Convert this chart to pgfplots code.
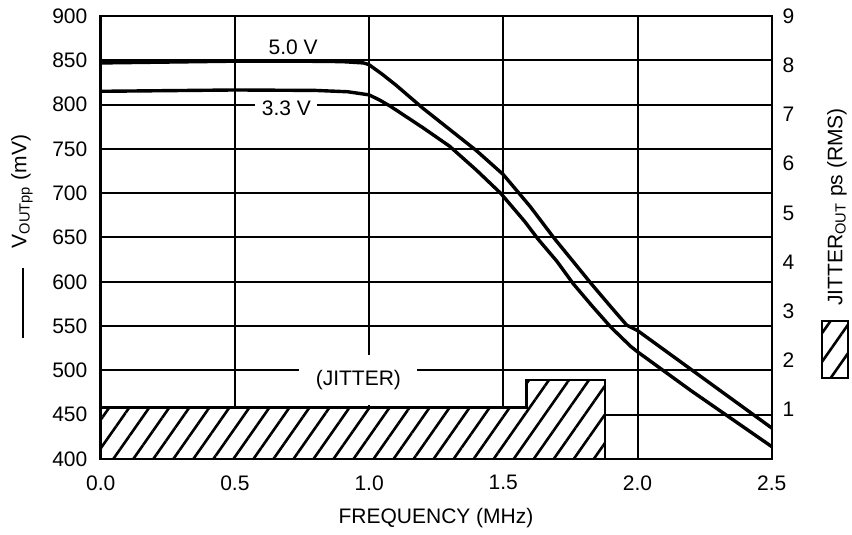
\documentclass[border=0pt]{standalone}
\usepackage{fontspec}
\setmainfont{Liberation Sans}
\usepackage{pgfplots}
\pgfplotsset{compat=1.18}
\usetikzlibrary{patterns.meta}
\tikzset{hatch/.style={pattern={Lines[angle=55,distance=8.2pt,line width=1.3pt]}}}

\begin{document}
\fontsize{10.5}{12}\selectfont
\begin{tikzpicture}
\useasboundingbox (-50.35pt,-38pt) rectangle (375.65pt,229.5pt);
\pgfplotsset{
  base/.style={scale only axis, width=335.5pt, height=221.5pt,
    xmin=0, xmax=2.5, at={(0,0)}, anchor=south west,
    /pgf/number format/assume math mode=true,
    tick style={draw=none}, major tick length=0pt}
}
% ---- left axis with grid and labels
\begin{axis}[base, ymin=400, ymax=900, ytick={400,450,...,900},
  xtick={0,0.5,1,1.5,2,2.5},
  x tick label style={/pgf/number format/fixed, /pgf/number format/fixed zerofill, /pgf/number format/precision=1, yshift=-4.5pt},
  y tick label style={xshift=-3pt},
  grid=major, grid style={black, line width=1pt},
  axis line style={line width=1.2pt}]
  \node[fill=white, inner sep=0pt, minimum width=59pt, minimum height=25pt] at (axis cs:0.96,489) {(JITTER)};
  \node[fill=white, inner sep=1.5pt] at (axis cs:0.717,865) {5.0 V};
  \node[fill=white, inner sep=0pt, minimum width=31pt, minimum height=11pt] at (axis cs:0.692,796) {3.3 V};
\end{axis}
% ---- right axis: jitter bars
\begin{axis}[base, ymin=0, ymax=9, ytick={1,2,...,9}, axis y line*=right, axis x line=none,
  y tick label style={xshift=1.7pt}, axis line style={line width=1.2pt}, clip=false]
  \addplot[fill=white, draw=none] coordinates {(0,0) (0,1.05) (1.587,1.05) (1.587,1.6) (1.878,1.6) (1.878,0)} -- cycle;
  \addplot[draw=black, line width=1.2pt, hatch] coordinates {(0,0) (0,1.05) (1.587,1.05) (1.587,1.6) (1.878,1.6) (1.878,0)} -- cycle;
\end{axis}
% ---- curves
\begin{axis}[base, ymin=400, ymax=900, axis lines=none]
  \addplot[black, line width=1.7pt, line join=round] coordinates {
    (0,847) (0.25,848) (0.5,849) (0.75,849) (0.9,848.5) (0.98,847) (1.0,845)
    (1.05,834) (1.1,822) (1.2,796) (1.3,772) (1.4,748) (1.5,721) (1.6,685)
    (1.69,649) (1.76,623) (1.83,597) (1.9,572) (1.96,551) (2.0,545)
    (2.1,523) (2.2,501) (2.3,479) (2.4,457) (2.5,435)};
  \addplot[black, line width=1.7pt, line join=round] coordinates {
    (0,815) (0.5,816.5) (0.8,816) (0.92,814.5) (1.0,811) (1.04,805) (1.08,798)
    (1.2,774) (1.3,753) (1.4,726) (1.49,700) (1.58,668) (1.63,648) (1.7,623)
    (1.76,598) (1.83,573) (1.9,549) (1.975,527) (2.0,521) (2.1,499) (2.2,477)
    (2.3,456) (2.4,435) (2.5,414)};
\end{axis}
% ---- axis titles and legend keys
\node[rotate=90] at (-39.35pt,133.75pt) {V\textsubscript{OUTpp} (mV)};
\draw[line width=1pt] (-38.85pt,95.5pt) -- (-38.85pt,60.5pt);
\node[rotate=90] at (368.15pt,126pt) {JITTER\textsubscript{OUT} ps (RMS)};
\draw[line width=1pt, hatch] (360.65pt,40.5pt) rectangle (373.65pt,69pt);
\node at (167.65pt,-29.5pt) {FREQUENCY (MHz)};
\end{tikzpicture}
\end{document}
